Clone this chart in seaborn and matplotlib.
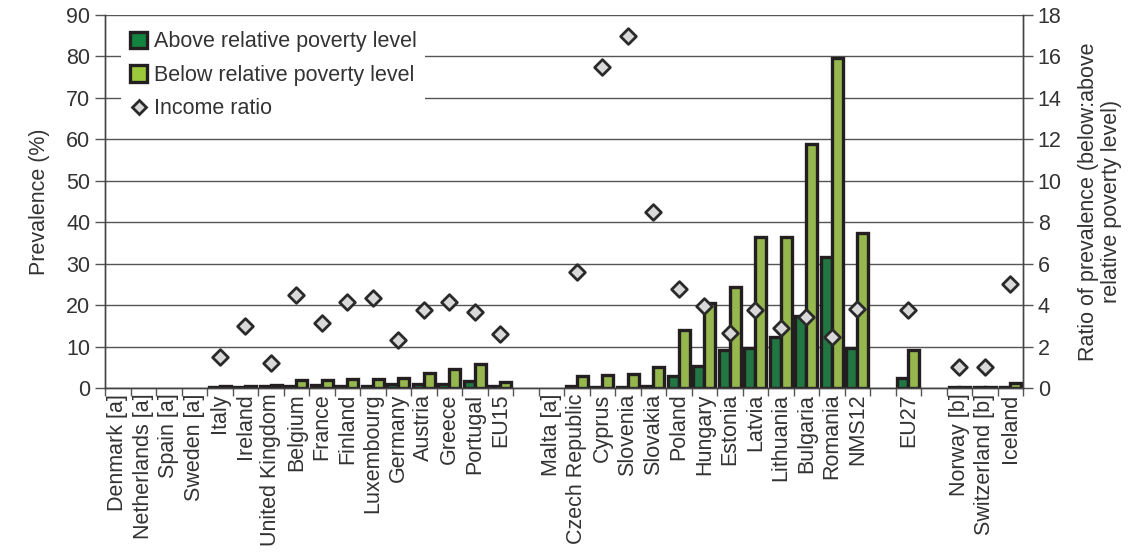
import numpy as np
import pandas as pd
import matplotlib
matplotlib.use("Agg")
import matplotlib.pyplot as plt
from matplotlib.patches import Patch
from matplotlib.lines import Line2D
import seaborn as sns

# Country groups (blank entries are spacer slots between groups)
categories = [
    "Denmark [a]", "Netherlands [a]", "Spain [a]", "Sweden [a]", "Italy", "Ireland",
    "United Kingdom", "Belgium", "France", "Finland", "Luxembourg", "Germany",
    "Austria", "Greece", "Portugal", "EU15", "",
    "Malta [a]", "Czech Republic", "Cyprus", "Slovenia", "Slovakia", "Poland",
    "Hungary", "Estonia", "Latvia", "Lithuania", "Bulgaria", "Romania", "NMS12", " ",
    "EU27", "  ",
    "Norway [b]", "Switzerland [b]", "Iceland",
]
nan = np.nan
# Prevalence (%) above the relative poverty level
above = [nan, nan, nan, nan, 0.3, 0.2, 0.6, 0.45, 0.63, 0.53, 0.5, 1.05,
         1.0, 1.1, 1.6, 0.58, nan,
         nan, 0.5, 0.2, 0.2, 0.6, 2.9, 5.3, 9.3, 9.7, 12.3, 17.4, 31.6, 9.7, nan,
         2.45, nan,
         0.2, 0.2, 0.24]
# Prevalence (%) below the relative poverty level
below = [nan, nan, nan, nan, 0.45, 0.6, 0.7, 2.0, 2.0, 2.2, 2.2, 2.4,
         3.7, 4.5, 5.9, 1.5, nan,
         nan, 2.9, 3.2, 3.5, 5.1, 13.9, 20.5, 24.4, 36.5, 36.5, 59.0, 79.6, 37.5, nan,
         9.2, nan,
         0.2, 0.2, 1.2]
# Ratio of prevalence (below : above)
ratio = [nan, nan, nan, nan, 1.5, 3.0, 1.2, 4.5, 3.15, 4.15, 4.35, 2.3,
         3.75, 4.15, 3.65, 2.6, nan,
         nan, 5.6, 15.5, 17.0, 8.5, 4.8, 3.95, 2.65, 3.75, 2.9, 3.45, 2.45, 3.8, nan,
         3.75, nan,
         1.0, 1.0, 5.0]

series_names = ["Above relative poverty level", "Below relative poverty level"]
ratio_name = "Income ratio"
dark_green = "#13843f"
light_green = "#9bc93b"
edge = "#231f20"
text_col = "#333333"

bars = pd.DataFrame({
    "country": categories * 2,
    "group": [series_names[0]] * len(categories) + [series_names[1]] * len(categories),
    "value": above + below,
})
points = pd.DataFrame({"country": categories, "ratio": ratio})

sns.set_style("white")
plt.rcParams["font.family"] = ["Liberation Sans", "DejaVu Sans"]
plt.rcParams["font.size"] = 15

fig = plt.figure(figsize=(11.42, 5.56), dpi=100)
ax = fig.add_axes([0.092, 0.302, 0.804, 0.671])
ax2 = ax.twinx()

sns.barplot(data=bars, x="country", y="value", hue="group", order=categories,
            hue_order=series_names, palette=[dark_green, light_green],
            width=0.86, edgecolor=edge, linewidth=2.4, errorbar=None,
            legend=False, ax=ax)

sns.stripplot(data=points, x="country", y="ratio", order=categories,
              jitter=False, marker="D", size=8, color="#d9d9d9",
              edgecolor="#2a2a2a", linewidth=2.0, ax=ax2, zorder=5)

n = len(categories)
ax.set_xlim(-0.5, n - 0.5)
ax.set_ylim(0, 90)
ax2.set_ylim(0, 18)

ax.set_yticks(np.arange(0, 91, 10))
ax2.set_yticks(np.arange(0, 19, 2))
ax.set_xticks(np.arange(n))
ax.set_xticklabels([c.strip() for c in categories], rotation=90, color=text_col)
ax.set_xticks(np.arange(-0.5, n, 1), minor=True)
ax.tick_params(axis="x", which="major", length=0, pad=4, labelsize=15.5)
ax.tick_params(axis="x", which="minor", length=6, width=1, color="#555555",
               direction="out", bottom=True)
ax.tick_params(axis="y", length=7, width=1, color="#555555", direction="out",
               labelsize=15.5, labelcolor=text_col, left=True)
ax2.tick_params(axis="y", length=7, width=1, color="#555555", direction="out",
                labelsize=15.5, labelcolor=text_col, right=True)

ax.set_axisbelow(True)
ax.yaxis.grid(True, color="#555555", linewidth=1.0)
ax.xaxis.grid(False)

for a in (ax, ax2):
    a.spines["top"].set_visible(False)
    for s in ("left", "right", "bottom"):
        a.spines[s].set_color("#444444")
        a.spines[s].set_linewidth(1.0)

ax.set_xlabel("")
ax.set_ylabel("Prevalence (%)", fontsize=15.5, color=text_col, labelpad=12)
ax2.set_xlabel("")
ax2.set_ylabel("Ratio of prevalence (below:above\nrelative poverty level)",
               fontsize=15.5, color=text_col, labelpad=12, linespacing=1.1)

handles = [
    Patch(facecolor=dark_green, edgecolor=edge, linewidth=2.4, label=series_names[0]),
    Patch(facecolor=light_green, edgecolor=edge, linewidth=2.4, label=series_names[1]),
    Line2D([], [], linestyle="none", marker="D", markersize=7.5, markerfacecolor="#d9d9d9",
           markeredgecolor="#2a2a2a", markeredgewidth=2.0, label=ratio_name),
]
leg = ax2.legend(handles=handles, loc="upper left", bbox_to_anchor=(0.006, 1.008),
                 frameon=True, facecolor="white", edgecolor="none", framealpha=1,
                 fancybox=False, fontsize=15.5, handlelength=0.8, handleheight=0.8,
                 handletextpad=0.3, labelspacing=0.58, borderpad=0.4)
for t in leg.get_texts():
    t.set_color(text_col)
leg.set_zorder(10)

fig.savefig("out.png", dpi=100)
